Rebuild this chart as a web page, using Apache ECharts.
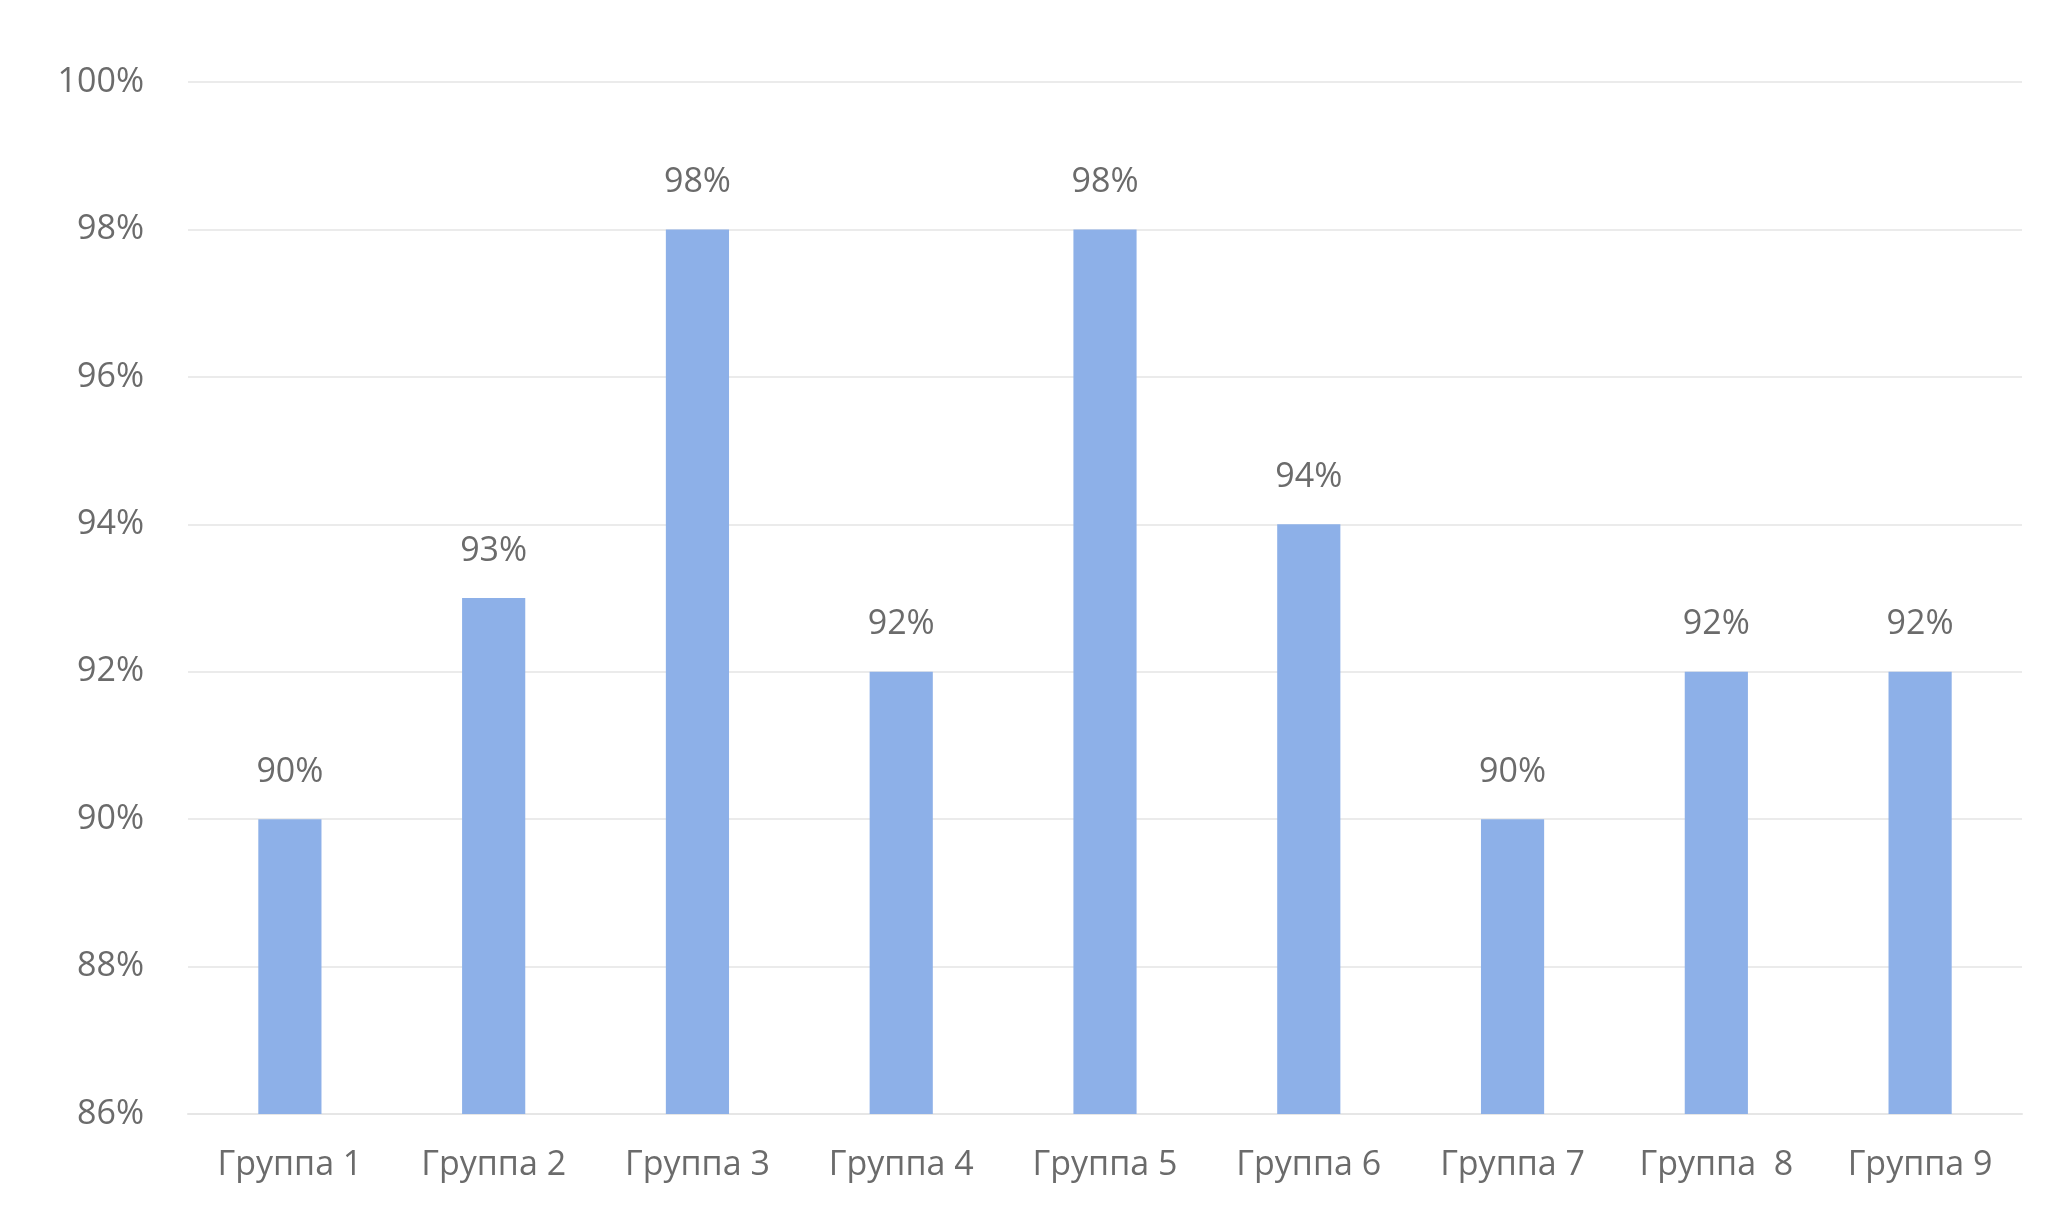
<!DOCTYPE html>
<html>
<head>
<meta charset="utf-8">
<script src="https://cdn.jsdelivr.net/npm/echarts@6/dist/echarts.min.js"></script>
<style>
  html, body { margin: 0; padding: 0; background: #fff; }
  #chart { width: 2052px; height: 1209px; }
</style>
</head>
<body>
<div id="chart"></div>
<script>
const categories = ['Группа 1', 'Группа 2', 'Группа 3', 'Группа 4', 'Группа 5', 'Группа 6', 'Группа 7', 'Группа  8', 'Группа 9']
const values = [90, 93, 98, 92, 98, 94, 90, 92, 92]
const yTicks = { min: 86, max: 100, step: 2 }

const chart = echarts.init(document.getElementById('chart'))
const textColor = '#6b6b6b'
const fontFamily = '"Open Sans", "Noto Sans", sans-serif'

chart.setOption({
  backgroundColor: '#fff',
  grid: { left: 188, right: 30, top: 82, bottom: 95, containLabel: false },
  xAxis: {
    type: 'category',
    data: categories,
    axisLine: { show: true, lineStyle: { color: '#e6e6e6', width: 2 } },
    axisTick: { show: false },
    axisLabel: { color: textColor, fontSize: 34, fontFamily: fontFamily, margin: 34 }
  },
  yAxis: {
    type: 'value',
    min: yTicks.min,
    max: yTicks.max,
    interval: yTicks.step,
    axisLine: { show: false },
    axisTick: { show: false },
    splitLine: { lineStyle: { color: '#ebebeb', width: 2 } },
    axisLabel: {
      color: textColor, fontSize: 34, fontFamily: fontFamily, margin: 44,
      formatter: v => v + '%'
    }
  },
  series: [{
    type: 'bar',
    data: values,
    barWidth: '31%',
    itemStyle: { color: '#8db0e8' },
    label: {
      show: true,
      position: 'top',
      distance: 30,
      color: textColor,
      fontSize: 34,
      fontFamily: fontFamily,
      formatter: p => p.value + '%'
    }
  }]
})
</script>
</body>
</html>
